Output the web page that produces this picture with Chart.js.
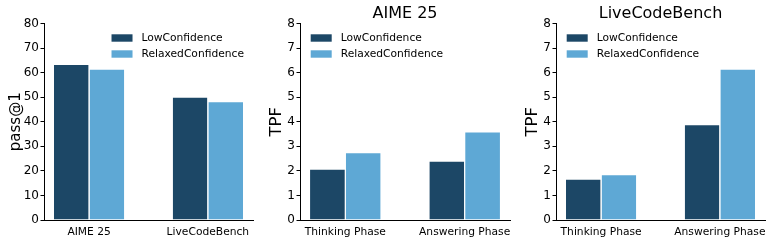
<!DOCTYPE html>
<html>
<head>
<meta charset="utf-8">
<script src="https://cdn.jsdelivr.net/npm/chart.js@4.4.0/dist/chart.umd.min.js"></script>
<style>
  html, body { margin: 0; padding: 0; background: #ffffff; }
  body { width: 773px; height: 242px; overflow: hidden; position: relative; }
  .panel { position: absolute; top: 0; height: 242px; }
  canvas { display: block; }
</style>
</head>
<body>
<div class="panel" style="left:0px;width:258px"><canvas id="c1" width="258" height="242"></canvas></div>
<div class="panel" style="left:258px;width:257px"><canvas id="c2" width="257" height="242"></canvas></div>
<div class="panel" style="left:515px;width:258px"><canvas id="c3" width="258" height="242"></canvas></div>
<script>
// ---- data ----
const seriesNames = ['LowConfidence', 'RelaxedConfidence'];
const seriesColors = ['#1c4766', '#5ea8d5'];

const scoreCategories = ['AIME 25', 'LiveCodeBench'];
const scoreLow = [63.5, 50.2];
const scoreRelaxed = [61.6, 48.3];
const scoreTicks = [0, 10, 20, 30, 40, 50, 60, 70, 80];

const phaseCategories = ['Thinking Phase', 'Answering Phase'];
const aimeLow = [2.09, 2.41];
const aimeRelaxed = [2.76, 3.60];
const lcbLow = [1.68, 3.90];
const lcbRelaxed = [1.86, 6.16];
const tpfTicks = [0, 1, 2, 3, 4, 5, 6, 7, 8];

Chart.defaults.font.family = "'DejaVu Sans', sans-serif";
Chart.defaults.color = '#000000';

const inLegend = {
  id: 'inLegend',
  afterDraw(chart, args, opts) {
    const ctx = chart.ctx;
    const area = chart.chartArea;
    const fs = opts.fontSize;
    ctx.save();
    ctx.font = fs + "px 'DejaVu Sans', sans-serif";
    const labels = chart.data.datasets.map(d => d.label);
    const maxW = Math.max(...labels.map(l => ctx.measureText(l).width));
    const swW = 21, swH = 7.4, gap = 9;
    let x0;
    if (opts.side === 'right') {
      x0 = area.right - opts.dx - (swW + gap + maxW);
    } else {
      x0 = area.left + opts.dx;
    }
    chart.data.datasets.forEach((d, i) => {
      const cy = area.top + opts.dy + i * opts.rowGap;
      ctx.fillStyle = d.backgroundColor;
      ctx.fillRect(x0, cy - swH / 2, swW, swH);
      ctx.fillStyle = '#000000';
      ctx.textBaseline = 'middle';
      ctx.textAlign = 'left';
      ctx.fillText(d.label, x0 + swW + gap, cy + 0.3);
    });
    ctx.restore();
  }
};

function makeChart(id, cats, low, relaxed, ticksArr, yTitle, titleText, cfg) {
  const yMax = ticksArr[ticksArr.length - 1];
  const yStep = ticksArr[1] - ticksArr[0];
  const series = [low, relaxed];
  return new Chart(document.getElementById(id), {
    type: 'bar',
    data: {
      datasets: series.map((vals, s) => ({
        label: seriesNames[s],
        data: cats.map((c, i) => ({ x: i, y: vals[i] })),
        backgroundColor: seriesColors[s],
        borderColor: 'rgba(255,255,255,0.35)',
        borderWidth: { top: 1, left: 0, right: 0, bottom: 0 },
        borderSkipped: 'bottom',
        categoryPercentage: 0.6,
        barPercentage: 0.972
      }))
    },
    options: {
      responsive: false,
      animation: false,
      events: [],
      layout: { padding: { top: cfg.padTop, right: cfg.padRight, left: 0, bottom: 0 } },
      plugins: {
        legend: { display: false },
        tooltip: { enabled: false },
        title: {
          display: !!titleText,
          text: titleText || '',
          color: '#000000',
          fullSize: false,
          font: { size: 16, weight: 'normal' },
          padding: { top: 4.3, bottom: 0 }
        },
        inLegend: { side: cfg.legendSide, dx: cfg.legendDx, dy: 14.5, rowGap: 16, fontSize: 10.7 }
      },
      scales: {
        x: {
          type: 'linear',
          min: -0.38,
          max: 1.38,
          offset: false,
          afterBuildTicks: (s) => { s.ticks = cats.map((c, i) => ({ value: i })); },
          afterFit: (s) => { s.height = 22; s.paddingLeft = 0; s.paddingRight = 0; },
          grid: { display: false, drawTicks: false, offset: false },
          border: { display: true, color: '#000000', width: 1 },
          ticks: {
            autoSkip: false,
            maxRotation: 0,
            padding: 5.5,
            color: '#000000',
            font: { size: 10.7 },
            callback: (v, i) => cats[i]
          }
        },
        y: {
          min: 0,
          max: yMax,
          afterBuildTicks: (s) => { s.ticks = ticksArr.map(v => ({ value: v })); },
          afterFit: (s) => { s.width = cfg.axisLeft; },
          grid: { display: true, drawOnChartArea: false, drawTicks: true, tickLength: 3.5, color: '#000000', lineWidth: 1 },
          border: { display: true, color: '#000000', width: 1 },
          ticks: {
            stepSize: yStep,
            padding: 1.5,
            color: '#000000',
            font: { size: 12 }
          },
          title: {
            display: true,
            text: yTitle,
            color: '#000000',
            font: { size: cfg.yTitleSize },
            padding: { top: cfg.yTitlePad, bottom: 0 }
          }
        }
      }
    },
    plugins: [inLegend]
  });
}

makeChart('c1', scoreCategories, scoreLow, scoreRelaxed, scoreTicks, 'pass@1', null,
  { padTop: 23.5, padRight: 5, axisLeft: 44, legendSide: 'right', legendDx: 9, yTitleSize: 15, yTitlePad: 7 });
makeChart('c2', phaseCategories, aimeLow, aimeRelaxed, tpfTicks, 'TPF', 'AIME 25',
  { padTop: 0, padRight: 5, axisLeft: 42, legendSide: 'left', legendDx: 10.7, yTitleSize: 16.5, yTitlePad: 8.6 });
makeChart('c3', phaseCategories, lcbLow, lcbRelaxed, tpfTicks, 'TPF', 'LiveCodeBench',
  { padTop: 0, padRight: 8, axisLeft: 41, legendSide: 'left', legendDx: 10.7, yTitleSize: 16.5, yTitlePad: 7.6 });
</script>
</body>
</html>
